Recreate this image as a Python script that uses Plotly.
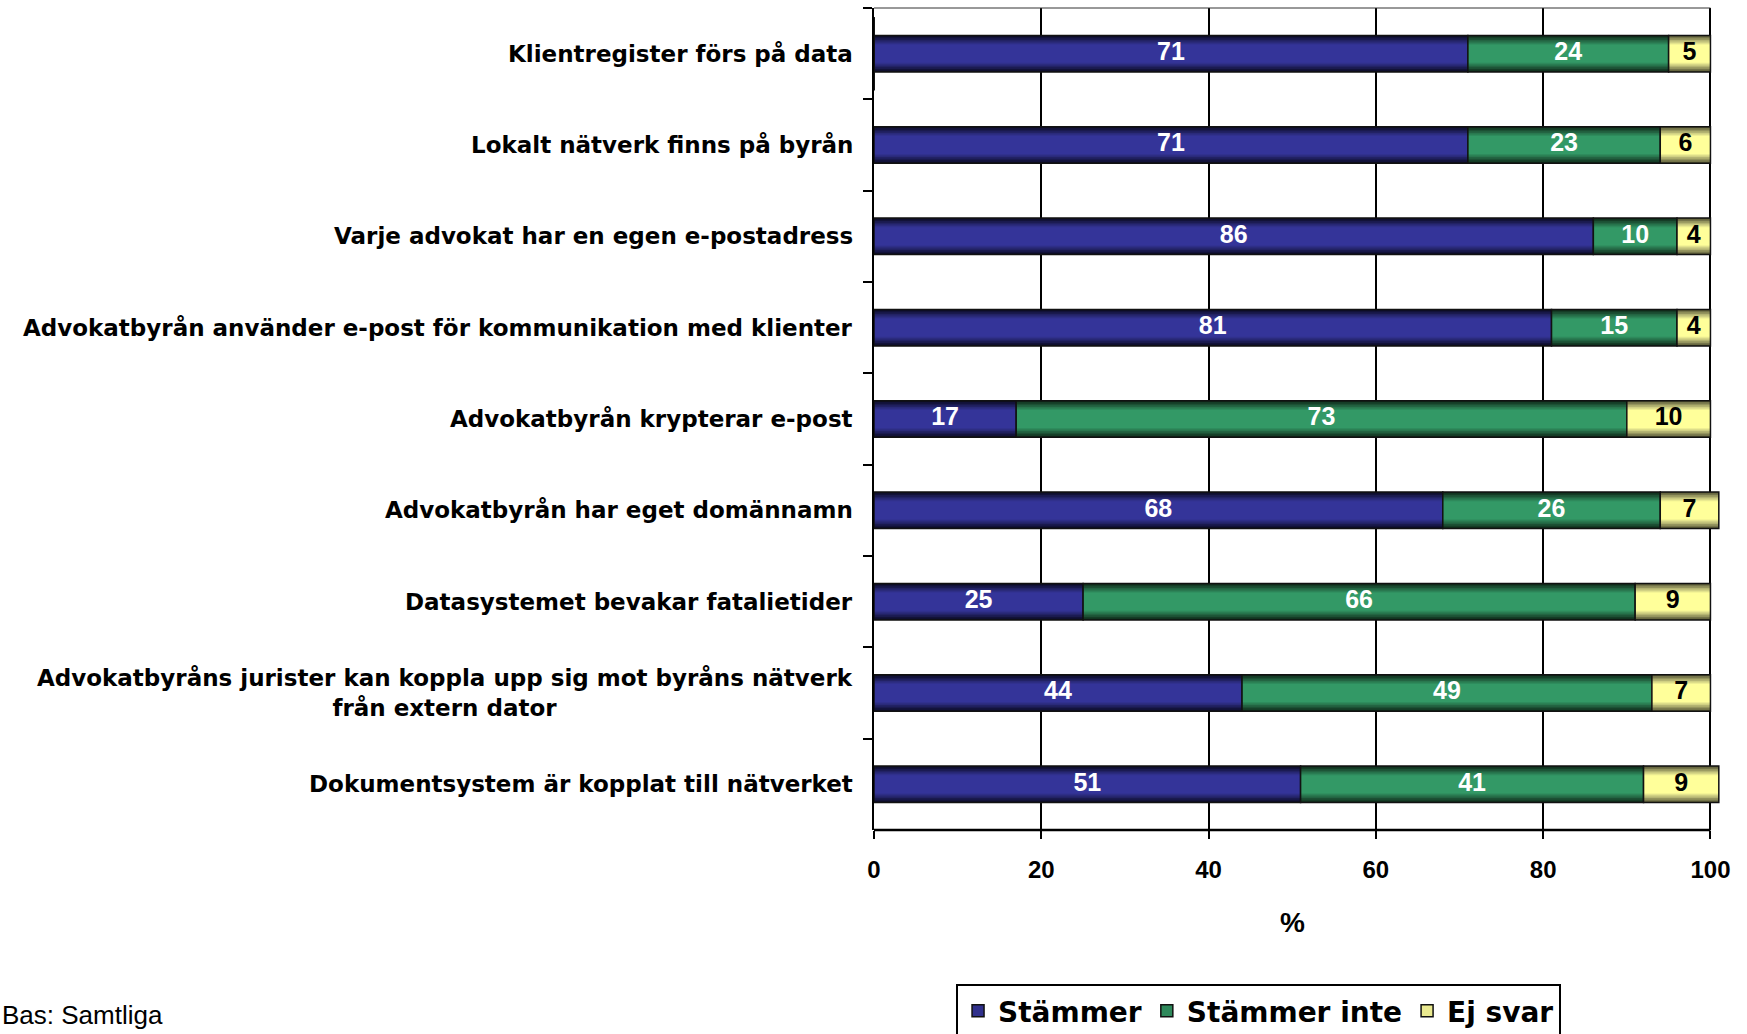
import plotly.graph_objects as go

# ---------------- data ----------------
categories = [
    "Klientregister förs på data",
    "Lokalt nätverk finns på byrån",
    "Varje advokat har en egen e-postadress",
    "Advokatbyrån använder e-post för kommunikation med klienter",
    "Advokatbyrån krypterar e-post",
    "Advokatbyrån har eget domännamn",
    "Datasystemet bevakar fatalietider",
    "Advokatbyråns jurister kan koppla upp sig mot byråns nätverk<br>från extern dator",
    "Dokumentsystem är kopplat till nätverket",
]
stammer = [71, 71, 86, 81, 17, 68, 25, 44, 51]
stammer_inte = [24, 23, 10, 15, 73, 26, 66, 49, 41]
ej_svar = [5, 6, 4, 4, 10, 7, 9, 7, 9]
series_names = ["Stämmer", "Stämmer inte", "Ej svar"]
x_ticks = [0, 20, 40, 60, 80, 100]
x_title = "%"
footnote = "Bas: Samtliga"

# ---------------- styles ----------------
series_values = [stammer, stammer_inte, ej_svar]
# gradient layers: outer (dark) -> inner (light)
layer_widths = [0.40, 0.37, 0.335, 0.30, 0.265, 0.23, 0.20]
gradients = [
    ["#0c0c26", "#121238", "#1a1a4e", "#222264", "#2a2a7a", "#30308c", "#343499"],
    ["#0f2c1b", "#153c26", "#1c5034", "#236442", "#29784f", "#2e895b", "#339966"],
    ["#5a5a35", "#74744a", "#94945e", "#b4b472", "#d0d083", "#eaea90", "#ffff9a"],
]
label_colors = ["white", "white", "black"]
edge_color = "#111111"

NUM_FONT = "Liberation Sans, Arial, sans-serif"
WIDE_FONT = "DejaVu Sans, Verdana, sans-serif"
REG_FONT = "Liberation Sans, Arial, sans-serif"

fig = go.Figure()

# cumulative bases
bases = []
running = [0] * len(categories)
for vals in series_values:
    bases.append(list(running))
    running = [r + v for r, v in zip(running, vals)]

for s, vals in enumerate(series_values):
    base = bases[s]
    for w, col in zip(layer_widths, gradients[s]):
        fig.add_trace(go.Bar(
            y=categories, x=vals, base=base, orientation="h",
            width=w,
            marker=dict(color=col, line=dict(width=0, color=col)),
            showlegend=False, hoverinfo="skip",
        ))
    # outline
    fig.add_trace(go.Bar(
        y=categories, x=vals, base=base, orientation="h",
        width=layer_widths[0],
        marker=dict(color="rgba(0,0,0,0)", line=dict(width=1.5, color=edge_color)),
        showlegend=False, hoverinfo="skip",
    ))

# value labels
for s, vals in enumerate(series_values):
    base = bases[s]
    fig.add_trace(go.Scatter(
        y=categories, x=[b + v / 2 for b, v in zip(base, vals)],
        mode="text", text=[str(v) for v in vals],
        textfont=dict(family=NUM_FONT, size=25, color=label_colors[s], weight="bold"),
        textposition="middle center",
        showlegend=False, hoverinfo="skip", cliponaxis=False,
    ))

# legend entries
for s, name in enumerate(series_names):
    fig.add_trace(go.Bar(
        y=[categories[0]], x=[0], base=[0], orientation="h", name=name,
        marker=dict(color=gradients[s][-2], line=dict(width=1.5, color=edge_color)),
        hoverinfo="skip",
    ))

# ---------------- layout ----------------
L, T, B = 874, 8, 204
xmax = 101.5
plot_w = 836 * xmax / 100
R = 1747 - L - plot_w
plot_h = 1034 - T - B

annotations = []
for c in categories:
    annotations.append(dict(
        x=0, xref="paper", xanchor="right", xshift=-19,
        y=c, yref="y", yanchor="middle",
        text=c, showarrow=False, align="center",
        font=dict(family=WIDE_FONT, size=23, color="black", weight="bold"),
    ))
annotations.append(dict(
    x=-L / plot_w, xref="paper", xanchor="left",
    y=(830 - 1015) / plot_h, yref="paper", yanchor="middle",
    text=footnote, showarrow=False,
    font=dict(family=REG_FONT, size=26, color="black"),
))
annotations.append(dict(
    x=50, xref="x", xanchor="center",
    y=(830 - 922) / plot_h, yref="paper", yanchor="middle",
    text=x_title, showarrow=False,
    font=dict(family=NUM_FONT, size=28, color="black", weight="bold"),
))

fig.update_layout(
    width=1747, height=1034,
    margin=dict(l=L, r=R, t=T, b=B, pad=0, autoexpand=False),
    barmode="overlay",
    paper_bgcolor="white", plot_bgcolor="white",
    annotations=annotations,
    showlegend=True,
    legend=dict(
        orientation="h", x=(956 - L) / plot_w, y=(830 - 984) / plot_h,
        xanchor="left", yanchor="top",
        bordercolor="black", borderwidth=2, bgcolor="white",
        font=dict(family=WIDE_FONT, size=28, color="black", weight="bold"),
        traceorder="normal", itemwidth=30,
    ),
    xaxis=dict(
        range=[0, xmax], tickvals=x_ticks, ticktext=[str(t) for t in x_ticks],
        showgrid=True, gridcolor="black", gridwidth=1.5,
        zeroline=False, showline=False,
        ticks="outside", ticklen=8, tickwidth=1.5, tickcolor="black",
        ticklabelstandoff=10,
        tickfont=dict(family=NUM_FONT, size=24, color="black", weight="bold"),
        automargin=False, fixedrange=True,
    ),
    yaxis=dict(
        type="category", categoryorder="array", categoryarray=categories,
        autorange="reversed",
        showline=True, linecolor="black", linewidth=2,
        ticks="outside", tickson="boundaries", ticklen=9, tickwidth=1.5, tickcolor="black",
        showticklabels=False, showgrid=False, zeroline=False,
        automargin=False, fixedrange=True,
    ),
    shapes=[
        dict(type="line", xref="x", yref="paper", x0=0, x1=100, y0=1, y1=1,
             line=dict(color="#333333", width=1)),
        dict(type="line", xref="x", yref="paper", x0=0, x1=100, y0=0, y1=0,
             line=dict(color="black", width=2.5)),
    ],
)

fig.write_html(
    "out.html",
    config={"displayModeBar": False},
    post_script="document.body.style.margin='0';document.body.style.overflow='hidden';",
)
